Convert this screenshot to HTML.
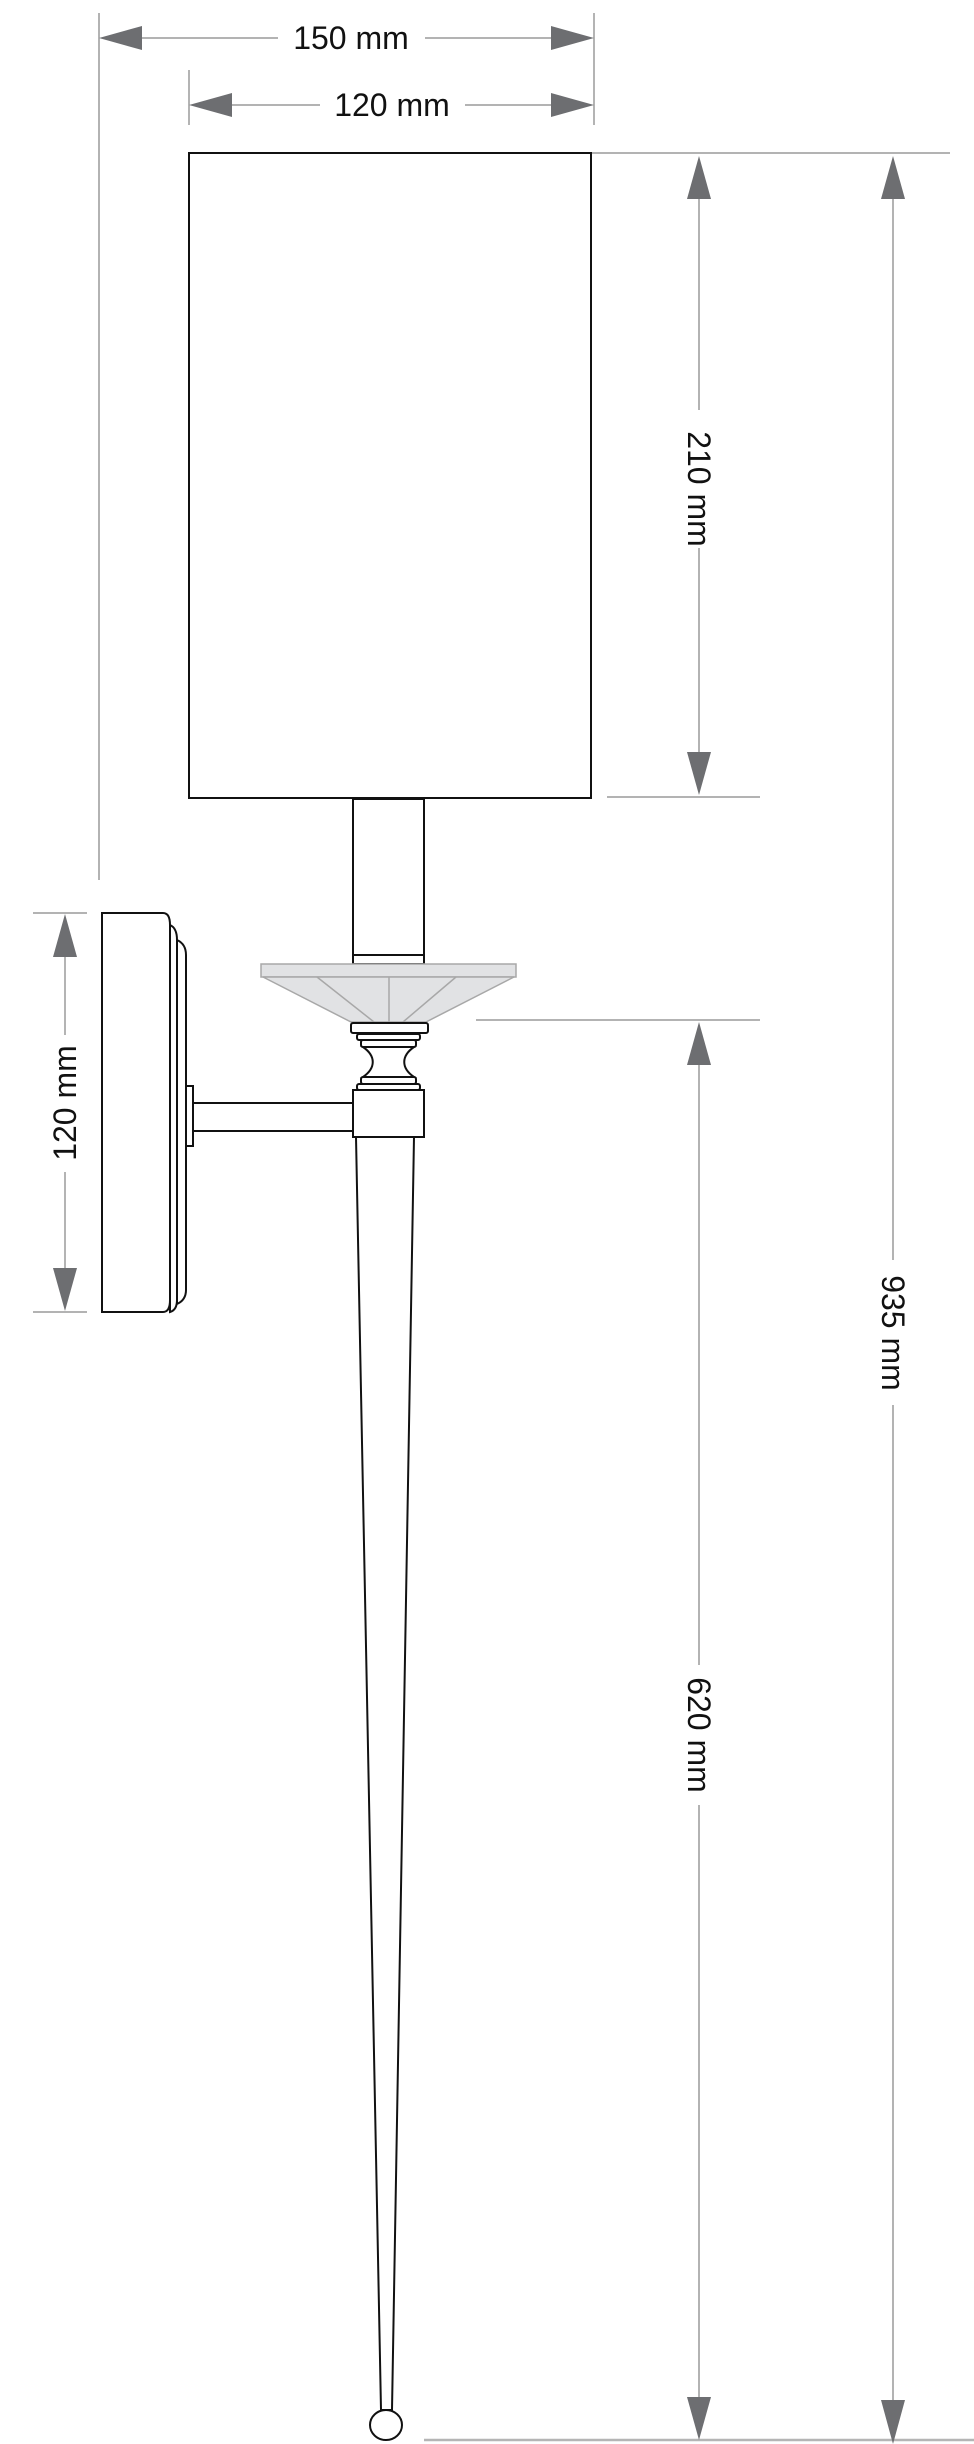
<!DOCTYPE html>
<html><head><meta charset="utf-8"><style>html,body{margin:0;padding:0;background:#fff}svg{display:block}</style></head>
<body>
<svg width="974" height="2444" viewBox="0 0 974 2444" xmlns="http://www.w3.org/2000/svg" font-family="Liberation Sans, sans-serif">
<g stroke="#9a9a9a" stroke-width="1.5" fill="none">
  <!-- extension lines -->
  <line x1="99" y1="13" x2="99" y2="880"/>
  <line x1="594" y1="13" x2="594" y2="125"/>
  <line x1="189" y1="70" x2="189" y2="125"/>
  <line x1="591" y1="153" x2="950" y2="153"/>
  <line x1="607" y1="797" x2="760" y2="797"/>
  <line x1="476" y1="1020" x2="760" y2="1020"/>
  <line x1="33" y1="913" x2="87" y2="913"/>
  <line x1="33" y1="1312" x2="87" y2="1312"/>
  <line x1="424" y1="2440" x2="974" y2="2440" stroke="#b5b5b5" stroke-width="2.5"/>
  <!-- 150 -->
  <line x1="140" y1="38" x2="278" y2="38"/>
  <line x1="425" y1="38" x2="552" y2="38"/>
  <!-- 120 top -->
  <line x1="230" y1="105" x2="320" y2="105"/>
  <line x1="465" y1="105" x2="552" y2="105"/>
  <!-- 210 -->
  <line x1="699" y1="195" x2="699" y2="410"/>
  <line x1="699" y1="548" x2="699" y2="755"/>
  <!-- 935 -->
  <line x1="893" y1="195" x2="893" y2="1260"/>
  <line x1="893" y1="1405" x2="893" y2="2400"/>
  <!-- 620 -->
  <line x1="699" y1="1062" x2="699" y2="1665"/>
  <line x1="699" y1="1805" x2="699" y2="2400"/>
  <!-- 120 left -->
  <line x1="65" y1="955" x2="65" y2="1035"/>
  <line x1="65" y1="1172" x2="65" y2="1270"/>
</g>
<g fill="#6d6e71">
  <polygon points="99,38 142,26 142,50"/>
  <polygon points="594,38 551,26 551,50"/>
  <polygon points="189,105 232,93 232,117"/>
  <polygon points="594,105 551,93 551,117"/>
  <polygon points="699,156 687,199 711,199"/>
  <polygon points="699,795 687,752 711,752"/>
  <polygon points="893,156 881,199 905,199"/>
  <polygon points="893,2444 881,2400 905,2400"/>
  <polygon points="699,1022 687,1065 711,1065"/>
  <polygon points="699,2440 687,2397 711,2397"/>
  <polygon points="65,914 53,957 77,957"/>
  <polygon points="65,1311 53,1268 77,1268"/>
</g>
<g font-size="32" fill="#111" text-anchor="middle">
  <text x="351" y="49">150 mm</text>
  <text x="392" y="116">120 mm</text>
  <text transform="translate(688,489) rotate(90)">210 mm</text>
  <text transform="translate(882,1333) rotate(90)">935 mm</text>
  <text transform="translate(688,1735) rotate(90)">620 mm</text>
  <text transform="translate(76,1103) rotate(-90)">120 mm</text>
</g>
<g stroke="#111" stroke-width="2" fill="#fff">
  <rect x="189" y="153" width="402" height="645"/>
  <rect x="353" y="799" width="71" height="165"/>
  <line x1="353" y1="955" x2="424" y2="955"/>
  <!-- bobeche -->
  <g stroke="#a8a8a8" stroke-width="1.5" fill="#e1e2e4">
    <rect x="261" y="964" width="255" height="13"/>
    <polygon points="263,977 514,977 426,1022 351,1022"/>
    <line x1="317" y1="977" x2="374" y2="1022"/>
    <line x1="389" y1="977" x2="389" y2="1022"/>
    <line x1="456" y1="977" x2="403" y2="1022"/>
  </g>
  <!-- cup -->
  <rect x="351" y="1023" width="77" height="10" rx="2"/>
  <rect x="357" y="1034" width="63" height="6" rx="2"/>
  <rect x="361" y="1040" width="55" height="7" rx="2"/>
  <path d="M363,1047 C376,1056 376,1068 363,1077 L414,1077 C401,1068 401,1056 414,1047 Z"/>
  <rect x="361" y="1077" width="55" height="7" rx="2"/>
  <rect x="357" y="1084" width="63" height="6" rx="2"/>
  <!-- arm -->
  <rect x="193" y="1103" width="160" height="28"/>
  <rect x="186" y="1086" width="7" height="60"/>
  <!-- wall plate layers -->
  <path d="M170,925 Q177,928 177,940 L177,1300 Q177,1310 170,1312 Z"/>
  <path d="M177,940 Q186,944 186,955 L186,1290 Q186,1300 177,1304 Z"/>
  <path d="M102,913 L163,913 Q170,913 170,925 L170,1300 Q170,1312 163,1312 L102,1312 Z"/>
  <!-- block and stem -->
  <rect x="353" y="1090" width="71" height="47"/>
  <polygon points="356,1137 414,1137 392,2410 381,2410"/>
  <ellipse cx="386" cy="2425" rx="16" ry="15"/>
</g>
</svg>
</body></html>
